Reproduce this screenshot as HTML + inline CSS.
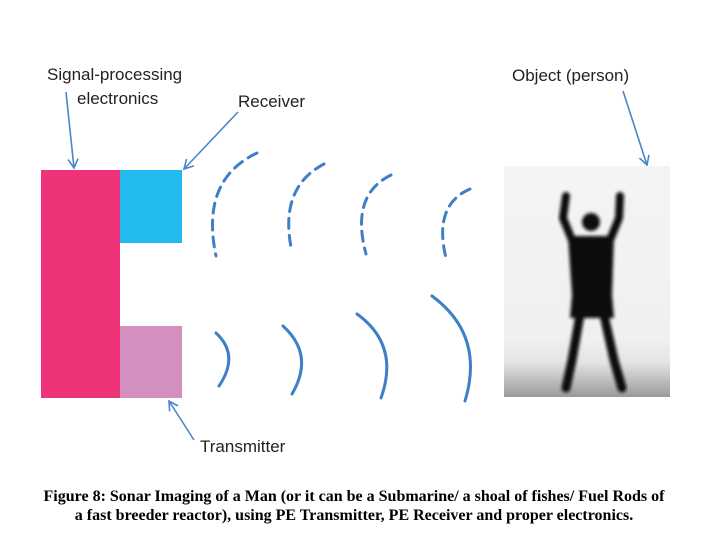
<!DOCTYPE html>
<html><head><meta charset="utf-8"><style>
html,body{margin:0;padding:0;background:#fff;width:708px;height:538px;overflow:hidden}
.cap{position:absolute;left:0;width:708px;text-align:center;font-family:"Liberation Serif",serif;font-weight:bold;font-size:16px;color:#000;line-height:19px;top:487px;white-space:nowrap}
</style></head><body>
<svg width="708" height="538" style="position:absolute;left:0;top:0">
<defs>
<linearGradient id="bg" x1="0" y1="0" x2="0" y2="1">
<stop offset="0" stop-color="#f4f4f4"/><stop offset="0.75" stop-color="#f0f0f0"/><stop offset="0.85" stop-color="#e4e4e4"/><stop offset="1" stop-color="#9a9a9a"/></linearGradient>
<filter id="bl"><feGaussianBlur stdDeviation="1.6"/></filter>
<marker id="ah" markerWidth="12" markerHeight="12" refX="10" refY="6" orient="auto" markerUnits="userSpaceOnUse"><path d="M1,1 L10,6 L1,11" fill="none" stroke="#4a86c8" stroke-width="1.6"/></marker>
</defs>
<rect x="41" y="170" width="79" height="228" fill="#ee3379"/>
<rect x="120" y="170" width="62" height="73" fill="#22bbee"/>
<rect x="120" y="326" width="62" height="72" fill="#d38fbd"/>
<g font-family="Liberation Sans, sans-serif" font-size="17" fill="#222">
<text x="47" y="80">Signal-processing</text>
<text x="77" y="104">electronics</text>
<text x="238" y="107">Receiver</text>
<text x="200" y="452">Transmitter</text>
<text x="512" y="81">Object (person)</text>
</g>
<g stroke="#4a86c8" stroke-width="1.6" fill="none">
<line x1="66" y1="92" x2="74" y2="168" marker-end="url(#ah)"/>
<line x1="238" y1="112" x2="184" y2="169" marker-end="url(#ah)"/>
<line x1="194" y1="440" x2="169" y2="401" marker-end="url(#ah)"/>
<line x1="623" y1="91" x2="647" y2="165" marker-end="url(#ah)"/>
</g>
<g stroke="#3f7fc9" stroke-width="3" fill="none" stroke-linecap="round">
<g stroke-dasharray="10,7">
<path d="M257 153 Q200 180 216 256"/>
<path d="M324 164 Q278 188 292 252"/>
<path d="M391 175 Q350 195 366 254"/>
<path d="M470 189 Q433 205 446 258"/>
</g>
<path d="M216 333 Q240 355 219 386"/>
<path d="M283 326 Q315 355 292 394"/>
<path d="M357 314 Q400 345 381 398"/>
<path d="M432 296 Q485 335 465 401"/>
</g>
<rect x="504" y="166" width="166" height="231" fill="url(#bg)"/>
<g fill="#111" stroke="#111" filter="url(#bl)" stroke-linecap="round" stroke-linejoin="round">
<circle cx="591" cy="222" r="9" stroke="none"/>
<path d="M568 236 L614 236 L612 295 L614 318 L570 318 L572 295 Z" stroke="none"/>
<path d="M572 240 L563 218 L566 196" fill="none" stroke-width="8"/>
<path d="M610 240 L619 218 L620 196" fill="none" stroke-width="8"/>
<path d="M580 315 L572 360 L566 388" fill="none" stroke-width="9"/>
<path d="M604 315 L614 360 L622 388" fill="none" stroke-width="9"/>
</g>
</svg>
<div class="cap">Figure 8: Sonar Imaging of a Man (or it can be a Submarine/ a shoal of fishes/ Fuel Rods of<br>a fast breeder reactor), using PE Transmitter, PE Receiver and proper electronics.</div>
</body></html>
